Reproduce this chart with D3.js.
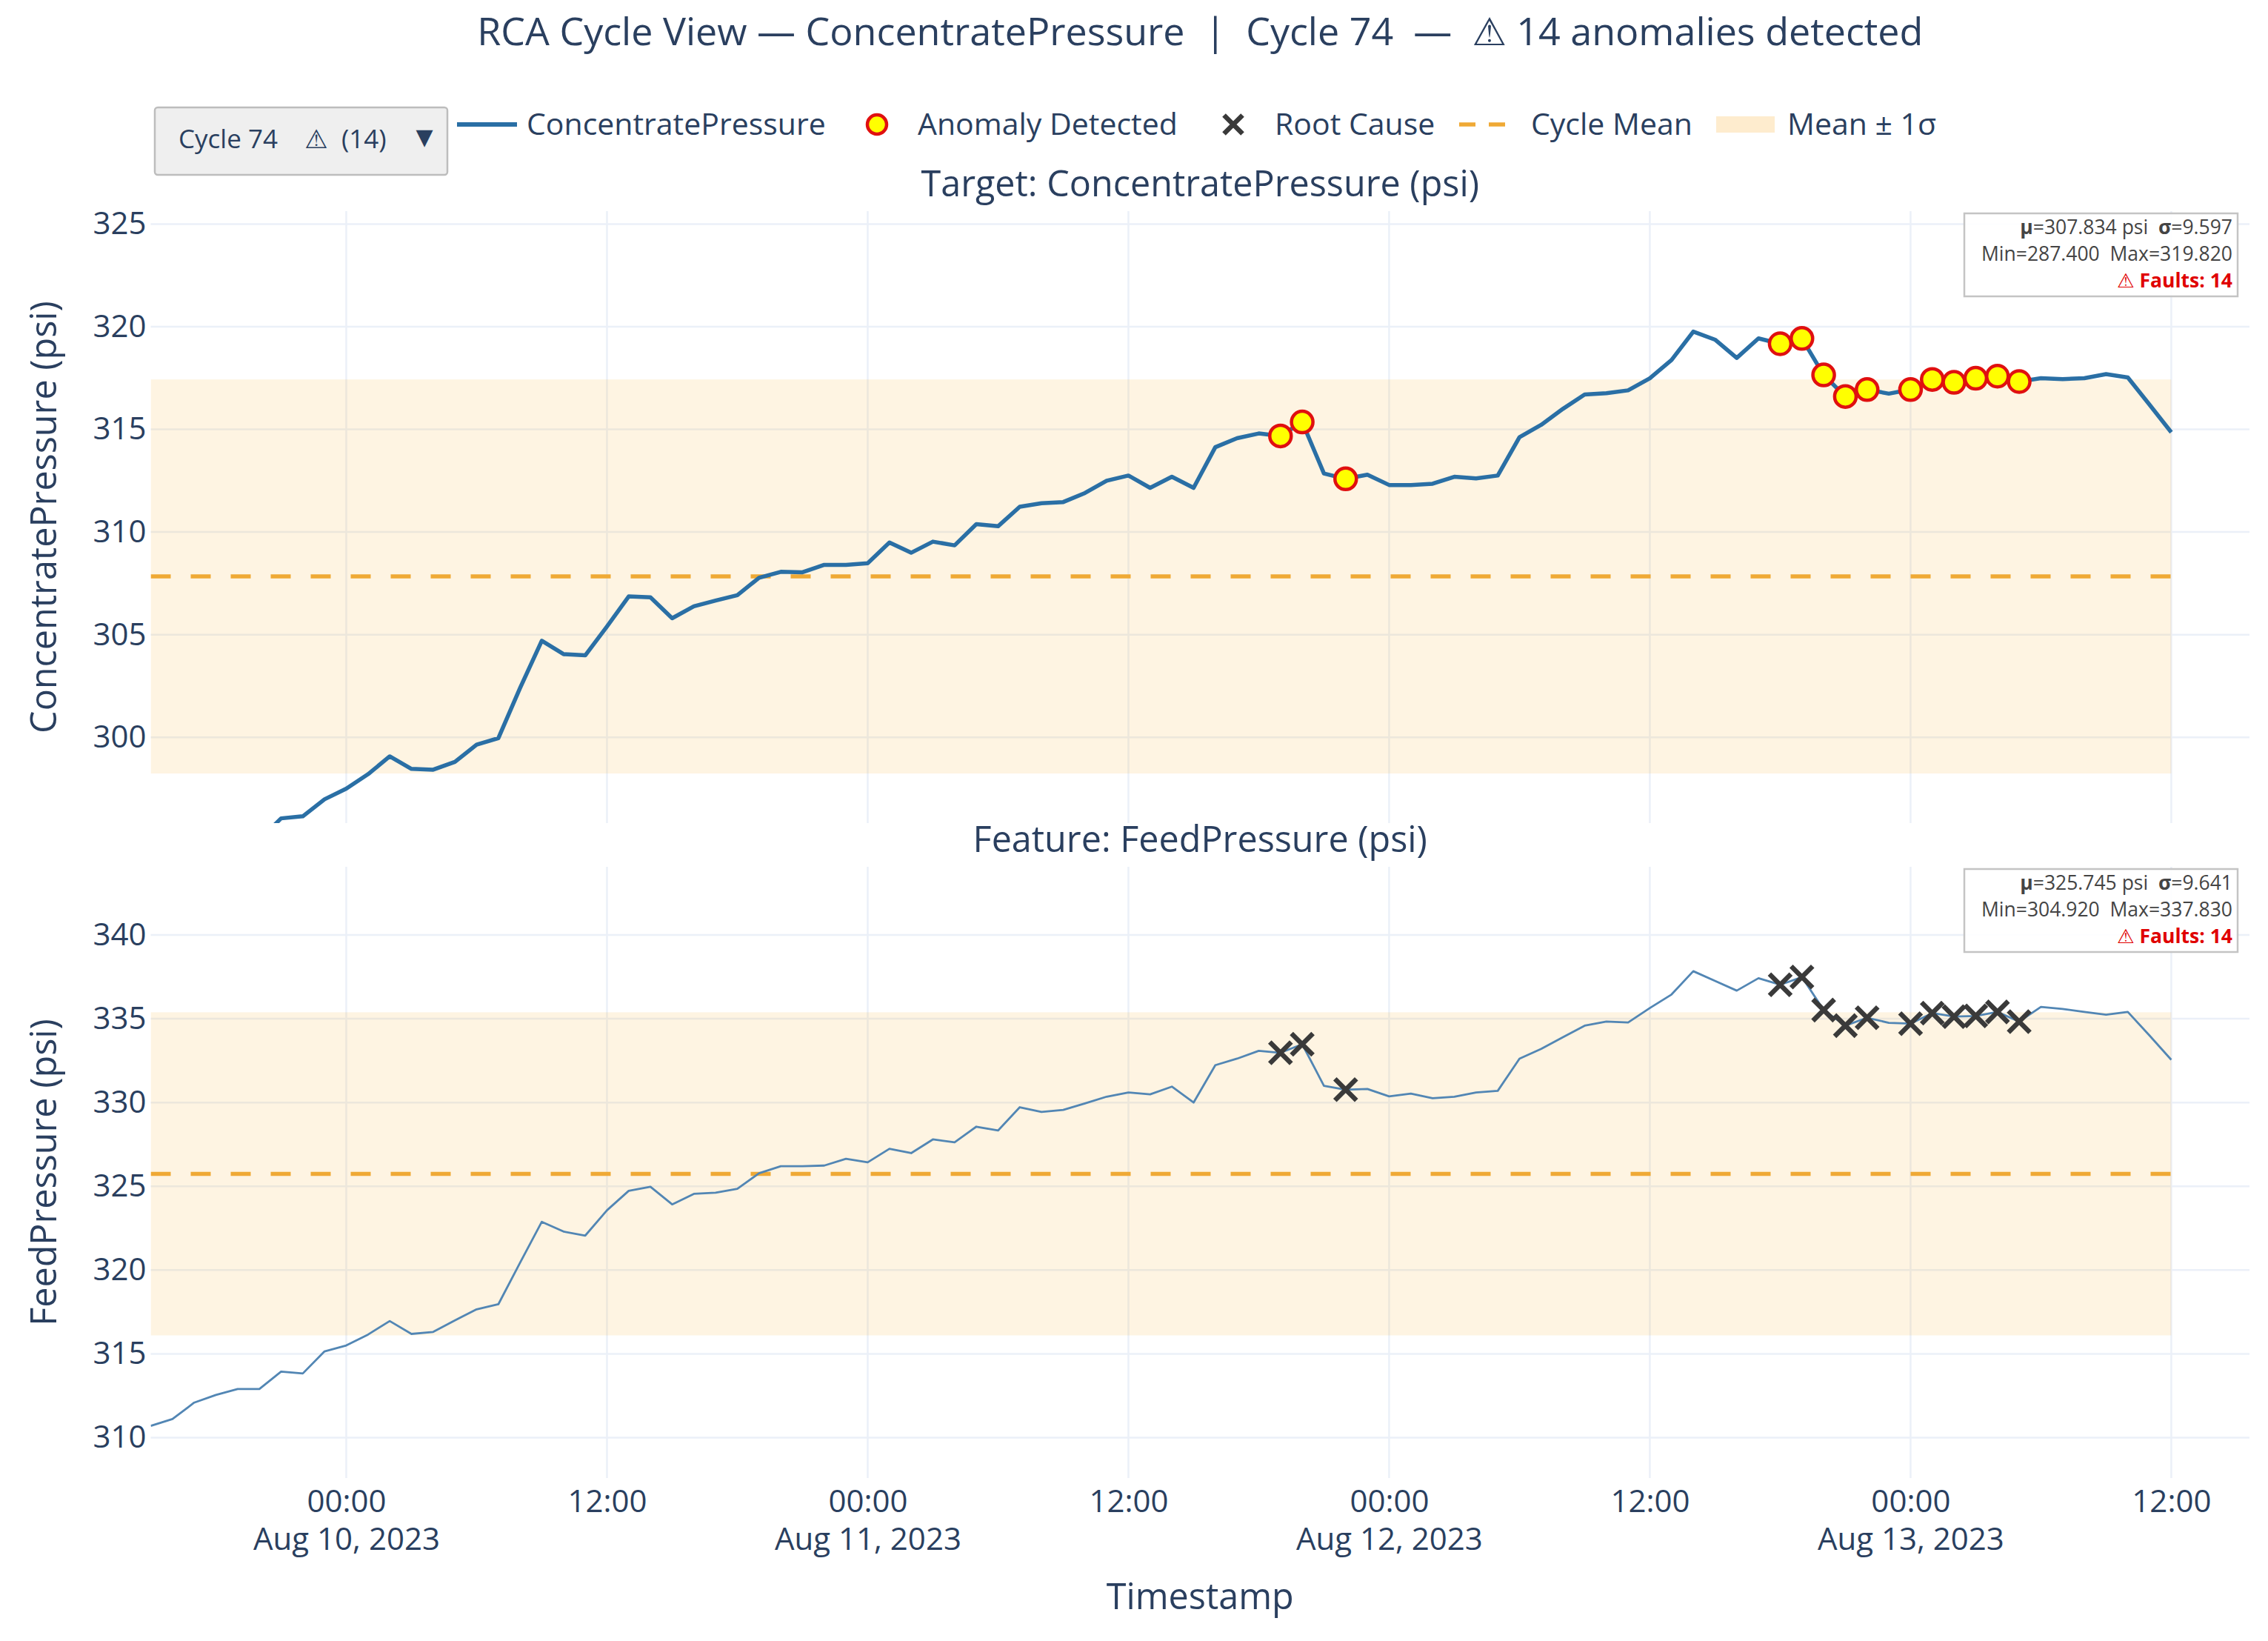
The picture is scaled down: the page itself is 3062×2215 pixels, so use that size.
<!DOCTYPE html>
<html>
<head>
<meta charset="utf-8">
<script src="https://cdn.jsdelivr.net/npm/d3@7"></script>
<style>
  html, body { margin: 0; padding: 0; background: #fff; }
  svg { display: block; font-family: "Open Sans", "DejaVu Sans", sans-serif; }
  text { white-space: pre; }
</style>
</head>
<body>
<svg id="chart"></svg>
<script>
// hourly samples of cycle 74
const cycleNumber = 74;
const cycleStart = "2023-08-09T15:00:00";
const cycleEnd = "2023-08-13T12:00:00";
const axisEnd = "2023-08-13T15:36:00";

const concentratePressure = [
  292.8, 293.2, 294.2, 294.6, 295.0, 295.0, 296.05, 296.15, 296.98, 297.5,
  298.2, 299.07, 298.46, 298.42, 298.8, 299.64, 299.96, 302.4, 304.7, 304.05,
  303.99, 305.4, 306.86, 306.82, 305.8, 306.38, 306.66, 306.92, 307.77, 308.06,
  308.04, 308.4, 308.4, 308.48, 309.49, 308.99, 309.53, 309.35, 310.38, 310.28,
  311.23, 311.4, 311.46, 311.9, 312.5, 312.75, 312.15, 312.69, 312.15, 314.13,
  314.57, 314.8, 314.68, 315.36, 312.85, 312.59, 312.79, 312.29, 312.29, 312.35,
  312.69, 312.61, 312.75, 314.62, 315.22, 316.0, 316.7, 316.76, 316.9, 317.49,
  318.38, 319.76, 319.37, 318.48, 319.43, 319.17, 319.43, 317.65, 316.6, 316.94,
  316.74, 316.94, 317.43, 317.29, 317.49, 317.59, 317.33, 317.49, 317.45, 317.49,
  317.69, 317.53, 316.2, 314.86
];

const feedPressure = [
  310.7, 311.11, 312.09, 312.55, 312.9, 312.9, 313.94, 313.83, 315.15, 315.5,
  316.15, 316.96, 316.19, 316.31, 317.0, 317.66, 317.96, 320.44, 322.88, 322.3,
  322.06, 323.57, 324.73, 324.97, 323.92, 324.55, 324.62, 324.85, 325.78, 326.2,
  326.2, 326.24, 326.64, 326.43, 327.24, 326.98, 327.8, 327.63, 328.56, 328.33,
  329.72, 329.44, 329.56, 329.95, 330.35, 330.6, 330.49, 330.95, 330.0, 332.23,
  332.62, 333.09, 332.97, 333.48, 331.0, 330.77, 330.81, 330.37, 330.53, 330.26,
  330.35, 330.6, 330.7, 332.62, 333.2, 333.9, 334.59, 334.83, 334.78, 335.64,
  336.45, 337.84, 337.26, 336.68, 337.42, 337.03, 337.49, 335.52, 334.59, 335.06,
  334.76, 334.71, 335.34, 335.13, 335.17, 335.41, 334.83, 335.71, 335.59, 335.41,
  335.24, 335.41, 334.0, 332.55
];

// positions (sample index) flagged as anomalies
const anomalyIndex = [52, 53, 55, 75, 76, 77, 78, 79, 81, 82, 83, 84, 85, 86];

// cycle statistics shown in the boxes
const targetStats = [307.834, 9.597, 287.4, 319.82];   // mean, sigma, min, max
const featureStats = [325.745, 9.641, 304.92, 337.83];

const legendLabels = ["ConcentratePressure", "Anomaly Detected", "Root Cause", "Cycle Mean", "Mean \u00b1 1\u03c3"];

const W = 3062, H = 2215;
const plotLeft = 203.5, plotRight = 3037;
const textColor = "#2a3f5f";
const gridColor = "#ebf0f8";
const meanColor = "#efa935";
const bandColor = "rgba(250,170,30,0.13)";

const svg = d3.select("#chart")
  .attr("width", W)
  .attr("height", H)
  .attr("viewBox", `0 0 ${W} ${H}`);

svg.append("rect").attr("width", W).attr("height", H).attr("fill", "#fff");

const times = d3.timeHour.range(new Date(cycleStart), d3.timeHour.offset(new Date(cycleEnd), 1));

const x = d3.scaleTime()
  .domain([new Date(cycleStart), new Date(axisEnd)])
  .range([plotLeft, plotRight]);

const panels = [
  {
    id: "target", top: 285, bottom: 1111, range: [295.82, 325.63],
    values: concentratePressure, stats: targetStats,
    title: "Target: ConcentratePressure (psi)", axisTitle: "ConcentratePressure (psi)",
    lineColor: "#2a6fa5", lineWidth: 5.5, marker: "circle"
  },
  {
    id: "feature", top: 1170, bottom: 1995, range: [307.59, 344.07],
    values: feedPressure, stats: featureStats,
    title: "Feature: FeedPressure (psi)", axisTitle: "FeedPressure (psi)",
    lineColor: "#5286b4", lineWidth: 2.8, marker: "x"
  }
];

const fmt3 = d3.format(".3f");
const xTicks = x.ticks(d3.timeHour.every(12));

function drawX(g, cx, cy, r) {
  g.append("path")
    .attr("d", `M${cx - r},${cy - r}L${cx + r},${cy + r}M${cx - r},${cy + r}L${cx + r},${cy - r}`)
    .attr("stroke", "#3a3a3a")
    .attr("stroke-width", 6.5)
    .attr("fill", "none");
}

panels.forEach((p) => {
  const y = d3.scaleLinear().domain(p.range).range([p.bottom, p.top]);
  const g = svg.append("g").attr("class", "panel-" + p.id);
  const mean = p.stats[0], sigma = p.stats[1];

  // grid
  g.selectAll(".hgrid")
    .data(y.ticks(6))
    .enter()
    .append("line")
    .attr("x1", plotLeft)
    .attr("x2", plotRight)
    .attr("y1", (d) => y(d))
    .attr("y2", (d) => y(d))
    .attr("stroke", gridColor)
    .attr("stroke-width", 2.5);

  g.selectAll(".vgrid")
    .data(xTicks)
    .enter()
    .append("line")
    .attr("x1", (d) => x(d))
    .attr("x2", (d) => x(d))
    .attr("y1", p.top)
    .attr("y2", p.bottom)
    .attr("stroke", gridColor)
    .attr("stroke-width", 2.5);

  // y tick labels
  const yAxis = g.append("g")
    .attr("transform", `translate(${plotLeft},0)`)
    .call(d3.axisLeft(y).ticks(6).tickSize(0).tickPadding(6));
  yAxis.select(".domain").remove();
  yAxis.selectAll("text")
    .attr("font-family", "Open Sans")
    .attr("font-size", 42)
    .attr("fill", textColor);

  // axis title
  g.append("text")
    .attr("transform", `translate(59,${(p.top + p.bottom) / 2}) rotate(-90)`)
    .attr("text-anchor", "middle")
    .attr("dy", "0.35em")
    .attr("font-size", 48.5)
    .attr("fill", textColor)
    .text(p.axisTitle);

  // subplot title
  g.append("text")
    .attr("x", (plotLeft + plotRight) / 2)
    .attr("y", p.top - 37)
    .attr("text-anchor", "middle")
    .attr("dy", "0.35em")
    .attr("font-size", 48.5)
    .attr("fill", textColor)
    .text(p.title);

  const clipId = "clip-" + p.id;
  svg.append("clipPath").attr("id", clipId)
    .append("rect")
    .attr("x", plotLeft)
    .attr("y", p.top)
    .attr("width", plotRight - plotLeft)
    .attr("height", p.bottom - p.top);

  const inner = g.append("g").attr("clip-path", `url(#${clipId})`);

  // mean +/- 1 sigma band
  inner.append("rect")
    .attr("x", x(times[0]))
    .attr("width", x(times[times.length - 1]) - x(times[0]))
    .attr("y", y(mean + sigma))
    .attr("height", y(mean - sigma) - y(mean + sigma))
    .attr("fill", bandColor);

  // cycle mean
  inner.append("line")
    .attr("x1", x(times[0]))
    .attr("x2", x(times[times.length - 1]))
    .attr("y1", y(mean))
    .attr("y2", y(mean))
    .attr("stroke", meanColor)
    .attr("stroke-width", 5.5)
    .attr("stroke-dasharray", "27,27");

  const line = d3.line()
    .x((d, i) => x(times[i]))
    .y((d) => y(d));

  inner.append("path")
    .datum(p.values)
    .attr("d", line)
    .attr("fill", "none")
    .attr("stroke", p.lineColor)
    .attr("stroke-width", p.lineWidth)
    .attr("stroke-linejoin", "round");

  const markers = g.append("g");
  anomalyIndex.forEach((idx) => {
    const cx = x(times[idx]), cy = y(p.values[idx]);
    if (p.marker === "circle") {
      markers.append("circle")
        .attr("cx", cx)
        .attr("cy", cy)
        .attr("r", 14.5)
        .attr("fill", "#ffff00")
        .attr("stroke", "#e01010")
        .attr("stroke-width", 4.5);
    } else {
      drawX(markers, cx, cy, 14.5);
    }
  });

  // stats box
  const box = g.append("g");
  box.append("rect")
    .attr("x", 2652)
    .attr("y", p.top + 3)
    .attr("width", 369)
    .attr("height", 112)
    .attr("fill", "rgba(255,255,255,0.9)")
    .attr("stroke", "#c4c4c4")
    .attr("stroke-width", 2.5);

  const l1 = box.append("text")
    .attr("x", 3014).attr("y", p.top + 22).attr("dy", "0.35em")
    .attr("text-anchor", "end").attr("font-size", 26.5).attr("fill", "#444");
  l1.append("tspan").attr("font-weight", "bold").text("\u03bc");
  l1.append("tspan").text("=" + fmt3(mean) + " psi  ");
  l1.append("tspan").attr("font-weight", "bold").text("\u03c3");
  l1.append("tspan").text("=" + fmt3(sigma));

  box.append("text")
    .attr("x", 3014).attr("y", p.top + 58).attr("dy", "0.35em")
    .attr("text-anchor", "end").attr("font-size", 26.5).attr("fill", "#444")
    .text("Min=" + fmt3(p.stats[2]) + "  Max=" + fmt3(p.stats[3]));

  box.append("text")
    .attr("x", 3014).attr("y", p.top + 94).attr("dy", "0.35em")
    .attr("text-anchor", "end").attr("font-size", 26.5)
    .attr("font-weight", "bold")
    .attr("fill", "#e00000")
    .text("\u26a0 Faults: " + anomalyIndex.length);
});

// x axis labels (bottom panel only)
const xAxis = svg.append("g")
  .attr("transform", `translate(0,${panels[1].bottom})`)
  .call(d3.axisBottom(x).ticks(d3.timeHour.every(12)).tickSize(0).tickFormat(() => ""));
xAxis.select(".domain").remove();
xAxis.selectAll(".tick text").each(function (d) {
  const t = d3.select(this)
    .attr("y", 0)
    .attr("dy", null)
    .attr("font-family", "Open Sans")
    .attr("font-size", 42)
    .attr("fill", textColor);
  t.append("tspan").attr("x", 0).attr("y", 31).attr("dy", "0.35em").text(d3.timeFormat("%H:%M")(d));
  if (d.getHours() === 0) {
    t.append("tspan").attr("x", 0).attr("y", 82).attr("dy", "0.35em").text(d3.timeFormat("%b %-d, %Y")(d));
  }
});

svg.append("text")
  .attr("x", (plotLeft + plotRight) / 2)
  .attr("y", 2155)
  .attr("text-anchor", "middle")
  .attr("dy", "0.35em")
  .attr("font-size", 48.5)
  .attr("fill", textColor)
  .text("Timestamp");

// main title
svg.append("text")
  .attr("x", (plotLeft + plotRight) / 2)
  .attr("y", 43)
  .attr("text-anchor", "middle")
  .attr("dy", "0.35em")
  .attr("font-size", 52)
  .attr("fill", textColor)
  .text(`RCA Cycle View \u2014 ConcentratePressure  |  Cycle ${cycleNumber}  \u2014  \u26a0 ${anomalyIndex.length} anomalies detected`);

// cycle dropdown
const menu = svg.append("g");
menu.append("rect")
  .attr("x", 209).attr("y", 145)
  .attr("width", 395).attr("height", 91)
  .attr("rx", 4)
  .attr("fill", "#efefef")
  .attr("stroke", "#bdbdbd")
  .attr("stroke-width", 2.5);
menu.append("text")
  .attr("x", 241).attr("y", 188)
  .attr("dy", "0.35em")
  .attr("font-size", 35)
  .attr("fill", textColor)
  .text(`Cycle ${cycleNumber}    \u26a0  (${anomalyIndex.length})`);
menu.append("text")
  .attr("x", 573).attr("y", 184)
  .attr("dy", "0.35em")
  .attr("text-anchor", "middle")
  .attr("font-family", "DejaVu Sans")
  .attr("font-size", 30)
  .attr("fill", textColor)
  .text("\u25bc");

// legend
const legendY = 168;
const legendX = [711, 1239, 1721, 2067, 2413];
const legend = svg.append("g");

legend.append("line")
  .attr("x1", 617).attr("x2", 698)
  .attr("y1", legendY).attr("y2", legendY)
  .attr("stroke", panels[0].lineColor)
  .attr("stroke-width", 6);
legend.append("circle")
  .attr("cx", 1184).attr("cy", legendY)
  .attr("r", 13)
  .attr("fill", "#ffff00")
  .attr("stroke", "#e01010")
  .attr("stroke-width", 4.5);
drawX(legend, 1665, legendY, 12.5);
legend.append("line")
  .attr("x1", 1970).attr("x2", 2048)
  .attr("y1", legendY).attr("y2", legendY)
  .attr("stroke", meanColor)
  .attr("stroke-width", 5.5)
  .attr("stroke-dasharray", "22,18");
legend.append("rect")
  .attr("x", 2317).attr("y", legendY - 11)
  .attr("width", 79).attr("height", 22)
  .attr("fill", "rgba(250,170,30,0.22)");

legend.selectAll(".legend-label")
  .data(legendLabels)
  .enter()
  .append("text")
  .attr("class", "legend-label")
  .attr("x", (d, i) => legendX[i])
  .attr("y", legendY)
  .attr("dy", "0.35em")
  .attr("font-size", 41)
  .attr("fill", textColor)
  .text((d) => d);
</script>
</body>
</html>
